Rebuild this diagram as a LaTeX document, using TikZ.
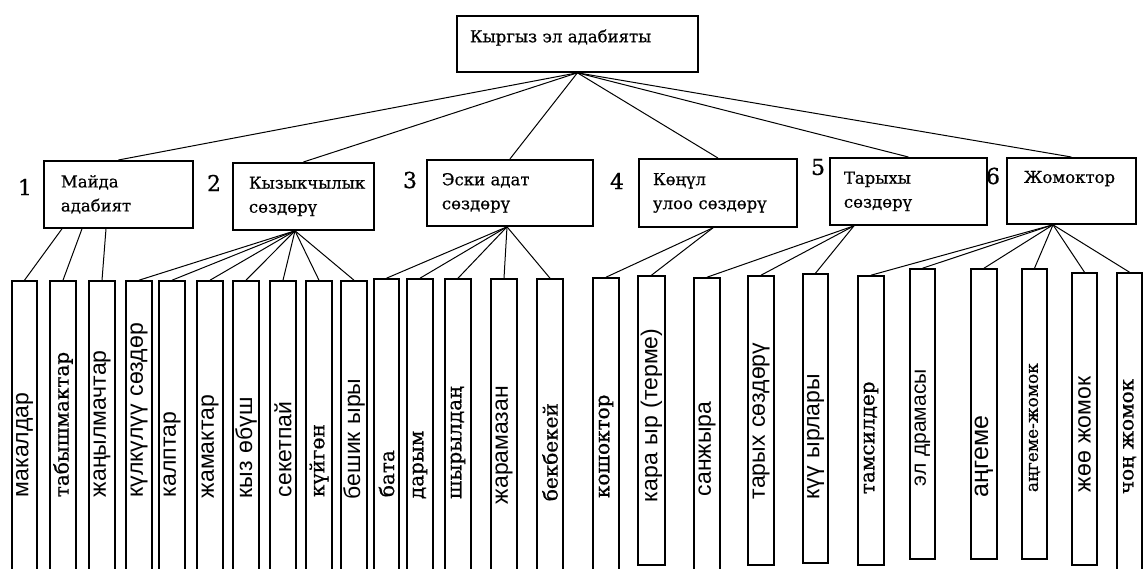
\documentclass[tikz,border=0pt]{standalone}
\usepackage{fontspec}
\setmainfont{DejaVu Serif}[FakeBold=0.6]
\newfontfamily\leafsans{Liberation Sans}
\usetikzlibrary{calc}

\tikzset{
    topbox/.style={draw, line width=1.8pt, inner sep=0pt, anchor=north west, align=left, font=\fontsize{16.5}{24}\selectfont},
    catbox/.style={topbox, minimum height=67pt},
    catnum/.style={inner sep=0pt, font=\fontsize{22}{22}\selectfont},
    leafbox/.style={draw, line width=1.8pt, inner sep=0pt, rotate=90, anchor=west, align=left},
    link/.style={line width=1pt}
}

\begin{document}
\begin{tikzpicture}[x=1pt, y=-1pt]
    \path[use as bounding box] (0,0) rectangle (1143,568);
    \clip (0,0) rectangle (1143,568);
    \node[topbox, minimum width=241pt, minimum height=56pt, text width=215pt, text depth=16pt] (root) at (456,15) {Кыргыз эл адабияты};
    \node[catbox, minimum width=149pt, text width=115pt] (c1) at (43,160) {Майда\\адабият};
    \node[catbox, minimum width=141pt, text width=109pt] (c2) at (232,162) {Кызыкчылык\\сөздөрү};
    \node[catbox, minimum width=166pt, minimum height=66pt, text width=136pt] (c3) at (426,159) {Эски адат\\сөздөрү};
    \node[catbox, minimum width=158pt, minimum height=68pt, text width=130pt] (c4) at (638,158) {Көңүл\\улоо сөздөрү};
    \node[catbox, minimum width=157pt, text width=129pt] (c5) at (829,157) {Тарыхы\\сөздөрү};
    \node[catbox, minimum width=129pt, minimum height=66pt, text width=95pt, text depth=28pt] (c6) at (1006,157) {Жомоктор};
    \node[catnum] (n1) at (25,187) {1};
    \node[catnum] (n2) at (214,183) {2};
    \node[catnum] (n3) at (410,180) {3};
    \node[catnum] (n4) at (617,181) {4};
    \node[catnum] (n5) at (818,167) {5};
    \node[catnum] (n6) at (993,176) {6};
    \foreach \c in {c1,c2,c3,c4,c5,c6}
        \draw[link] (root.south) -- (\c.north);
    \foreach \n/\xl/\xr/\tp/\bt/\ts/\s/\f/\lbl in {
        1/12/37/282/575/498/23/\leafsans/макалдар,
        2/50/76/282/575/498/20/\rmfamily/табышмактар,
        3/89/115/282/575/498/23/\leafsans/жаңылмачтар,
        4/126/152/282/575/498/23/\leafsans/күлкүлүү сөздөр,
        5/159/185/282/575/498/23/\leafsans/калптар,
        6/197/223/282/575/499/23/\leafsans/жамактар,
        7/233/259/282/575/499/23/\leafsans/кыз өбүш,
        8/270/296/282/575/498/23/\leafsans/секетпай,
        9/306/332/282/575/498/20/\rmfamily/күйгөн,
        10/341/367/282/575/500/23/\leafsans/бешик ыры,
        11/374/399/280/575/498/20/\rmfamily/бата,
        12/407/433/280/575/500/20/\rmfamily/дарым,
        13/445/471/280/575/500/20/\rmfamily/шырылдаң,
        14/491/517/280/575/505/23/\leafsans/жарамазан,
        15/537/563/280/575/502/20/\rmfamily/бекбекей,
        16/593/619/279/575/499/20/\rmfamily/кошоктор,
        17/638/665/277/566/503/23/\leafsans/кара ыр (терме),
        18/694/720/279/575/497/23/\leafsans/санжыра,
        19/748/774/277/566/500/23/\leafsans/тарых сөздөрү,
        20/803/828/275/564/500/23/\leafsans/күү ырлары,
        21/858/884/277/566/495/20/\rmfamily/тамсилдер,
        22/910/935/270/560/487/21/\leafsans/эл драмасы,
        23/971/997/270/560/498/25/\leafsans/аңгеме,
        24/1022/1047/270/560/493/17/\rmfamily/аңгеме-жомок,
        25/1072/1097/274/566/493/23/\leafsans/жөө жомок,
        26/1117/1142/274/575/495/20/\rmfamily/чоң жомок}{
        \pgfmathsetmacro\len{\bt-\tp}
        \pgfmathsetmacro\wid{\xr-\xl}
        \pgfmathsetmacro\pad{\bt-\ts}
        \pgfmathsetmacro\xc{(\xl+\xr)/2}
        \node[leafbox, font=\f\fontsize{\s}{\s}\selectfont, minimum width=\len pt, minimum height=\wid pt, text width=\len pt] (l\n) at (\xc,\bt) {\noindent\hspace*{\pad pt}\lbl};
    }
    \draw[link] ($(c1.south west)+(19,0)$) -- (l1.east);
    \draw[link] ($(c1.south west)+(39,0)$) -- (l2.east);
    \draw[link] ($(c1.south west)+(63,0)$) -- (l3.east);
    \foreach \i in {4,...,10}
        \draw[link] ($(c2.south west)+(63,0)$) -- (l\i.east);
    \foreach \i in {11,...,15}
        \draw[link] ($(c3.south west)+(81,0)$) -- (l\i.east);
    \foreach \i in {16,17}
        \draw[link] ($(c4.south west)+(75,0)$) -- (l\i.east);
    \foreach \i in {18,19,20}
        \draw[link] ($(c5.south west)+(25,0)$) -- (l\i.east);
    \foreach \i in {21,...,26}
        \draw[link] ($(c6.south west)+(47,0)$) -- (l\i.east);
\end{tikzpicture}
\end{document}
